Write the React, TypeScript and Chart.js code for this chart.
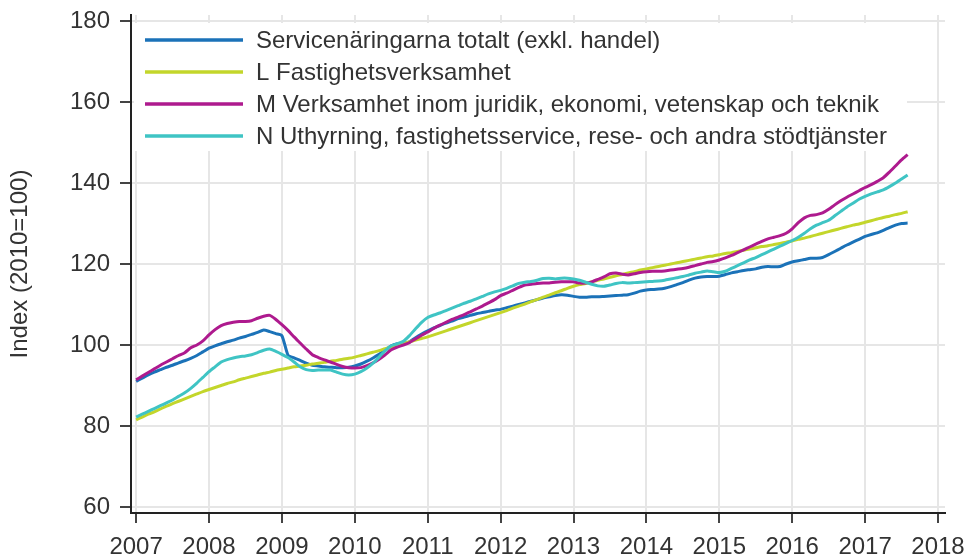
import React, { useEffect, useRef } from "react";
import { Chart, registerables } from "chart.js";

Chart.register(...registerables);

const startYear = 2007;

const seriesLabels = [
  "Servicenäringarna totalt (exkl. handel)",
  "L Fastighetsverksamhet",
  "M Verksamhet inom juridik, ekonomi, vetenskap och teknik",
  "N Uthyrning, fastighetsservice, rese- och andra stödtjänster",
];

const seriesColors = ["#1b72b8", "#c3d62b", "#ae1a8e", "#3fc4c4"];

// Monthly index values, Jan 2007 – Aug 2017
const serviceTotal = [
  91.0, 91.8, 92.6, 93.3, 93.9, 94.5, 95.0, 95.6, 96.1, 96.7, 97.4, 98.3,
  99.2, 99.8, 100.3, 100.8, 101.2, 101.7, 102.1, 102.6, 103.1, 103.7, 103.3, 102.8,
  102.3, 97.5, 96.8, 96.2, 95.5, 95.0, 94.8, 94.6, 94.5, 94.4, 94.4, 94.5,
  94.8, 95.3, 96.0, 96.8, 97.7, 98.7, 99.8, 100.3, 100.4, 100.8, 101.8, 102.7,
  103.5, 104.2, 104.8, 105.4, 105.9, 106.5, 106.9, 107.3, 107.7, 108.0, 108.3, 108.6,
  108.8, 109.2, 109.6, 110.0, 110.4, 110.8, 111.2, 111.6, 111.9, 112.2, 112.4, 112.3,
  112.0, 111.8, 111.8, 111.9, 111.9, 112.0, 112.1, 112.2, 112.3, 112.4, 112.8, 113.3,
  113.6, 113.7, 113.8, 114.0, 114.4, 114.9, 115.4, 116.0, 116.5, 116.8, 116.9, 116.9,
  117.0, 117.4, 117.8, 118.1, 118.4, 118.6, 118.8, 119.2, 119.4, 119.3, 119.4, 120.0,
  120.5, 120.8, 121.1, 121.4, 121.4, 121.6, 122.3, 123.1, 123.9, 124.7, 125.4, 126.1,
  126.8, 127.3, 127.7, 128.3, 129.0, 129.6, 130.0, 130.1,
];

const realEstate = [
  81.5, 82.2, 82.9, 83.5, 84.2, 84.9, 85.5, 86.1, 86.7, 87.3, 87.9, 88.5,
  89.0, 89.5, 90.0, 90.5, 90.9, 91.4, 91.8, 92.2, 92.6, 93.0, 93.3, 93.7,
  94.0, 94.3, 94.6, 94.8, 95.0, 95.3, 95.5, 95.7, 96.0, 96.2, 96.5, 96.7,
  97.0, 97.4, 97.8, 98.2, 98.6, 99.1, 99.5, 99.9, 100.4, 100.8, 101.2, 101.6,
  102.0, 102.5, 103.0, 103.5, 104.0, 104.5, 105.0, 105.5, 106.0, 106.5, 107.0, 107.5,
  108.0, 108.5, 109.1, 109.6, 110.1, 110.7, 111.2, 111.8, 112.3, 112.9, 113.4, 114.0,
  114.5, 114.9, 115.2, 115.6, 116.0, 116.3, 116.7, 117.1, 117.4, 117.8, 118.1, 118.5,
  118.8, 119.1, 119.4, 119.7, 120.0, 120.3, 120.6, 120.9, 121.2, 121.5, 121.8, 122.0,
  122.3, 122.6, 122.8, 123.1, 123.4, 123.7, 124.0, 124.3, 124.5, 124.8, 125.1, 125.4,
  125.7, 126.1, 126.4, 126.8, 127.2, 127.6, 128.0, 128.4, 128.8, 129.2, 129.6, 129.9,
  130.3, 130.7, 131.1, 131.5, 131.8, 132.2, 132.5, 132.9,
];

const professional = [
  91.4, 92.3, 93.2, 94.1, 95.0, 95.8, 96.6, 97.4, 98.1, 99.3, 100.0, 101.0,
  102.5, 103.8, 104.8, 105.3, 105.6, 105.8, 105.8, 106.0, 106.6, 107.1, 107.3, 106.3,
  105.0, 103.6, 102.0, 100.5, 99.0, 97.6, 96.9, 96.3, 95.8, 95.2, 94.7, 94.4,
  94.3, 94.4, 94.9, 95.6, 96.5, 97.6, 98.8, 99.5, 100.0, 100.6, 101.5, 102.4,
  103.2, 104.1, 104.9, 105.6, 106.3, 106.9, 107.5, 108.2, 108.9, 109.6, 110.4, 111.2,
  112.2, 112.8, 113.5, 114.2, 114.8, 115.0, 115.2, 115.3, 115.3, 115.5, 115.6, 115.6,
  115.6, 115.3, 115.3, 115.6, 116.2, 116.8, 117.6, 117.8, 117.5, 117.3, 117.6, 117.9,
  118.1, 118.2, 118.2, 118.3, 118.5, 118.7, 118.9, 119.2, 119.6, 120.0, 120.4, 120.6,
  121.0, 121.5, 122.1, 122.8, 123.5, 124.2, 124.9, 125.6, 126.2, 126.6, 127.0, 127.6,
  128.7, 130.2, 131.4, 132.0, 132.2, 132.6, 133.5, 134.6, 135.6, 136.5, 137.3, 138.1,
  138.9, 139.6, 140.4, 141.3, 142.7, 144.2, 145.7, 147.0,
];

const support = [
  82.2, 82.9, 83.6, 84.3, 85.0, 85.7, 86.4, 87.3, 88.2, 89.3, 90.6, 92.0,
  93.4, 94.6, 95.8, 96.4, 96.8, 97.1, 97.3, 97.6, 98.1, 98.7, 99.0, 98.4,
  97.7, 96.9, 95.8, 94.6, 93.9, 93.7, 93.8, 93.8, 93.8, 93.3, 92.8, 92.6,
  92.8, 93.4, 94.3, 95.5, 97.0, 98.6, 99.8, 100.3, 100.9, 102.3, 104.0, 105.6,
  106.8, 107.4, 107.9, 108.5, 109.1, 109.7, 110.3, 110.8, 111.4, 112.0, 112.6, 113.1,
  113.5, 114.0, 114.6, 115.2, 115.5, 115.7, 116.0, 116.4, 116.5, 116.3, 116.5, 116.5,
  116.3, 116.0, 115.5, 115.0, 114.6, 114.5, 114.8, 115.2, 115.4, 115.3, 115.4, 115.5,
  115.6, 115.7, 115.8, 116.0, 116.3, 116.6, 116.9, 117.3, 117.7, 118.0, 118.3, 118.1,
  117.9, 118.2, 118.9, 119.6, 120.3, 121.0, 121.6, 122.3, 123.0, 123.7, 124.4, 125.1,
  125.8, 126.6, 127.6, 128.7, 129.6, 130.2, 130.8, 131.9, 133.0, 134.1, 135.0, 136.0,
  136.7, 137.3, 137.8, 138.3, 139.1, 140.0, 141.0, 142.0,
];

const seriesValues = [serviceTotal, realEstate, professional, support];

const yAxisTitle = "Index (2010=100)";
const FONT = "'Liberation Sans', Arial, sans-serif";
const TEXT_COLOR = "#333333";

const legendPlugin = {
  id: "insideLegend",
  beforeDatasetsDraw(chart: any) {
    const ctx = chart.ctx;
    const area = chart.chartArea;
    ctx.save();
    ctx.fillStyle = "#ffffff";
    ctx.fillRect(area.left + 3, 23, 907 - area.left - 3, 128);
    const rowY = [40, 72, 104, 136];
    ctx.font = `24px ${FONT}`;
    ctx.textBaseline = "middle";
    ctx.textAlign = "left";
    seriesLabels.forEach((label, i) => {
      ctx.strokeStyle = seriesColors[i];
      ctx.lineWidth = 3.5;
      ctx.beginPath();
      ctx.moveTo(145, rowY[i]);
      ctx.lineTo(243, rowY[i]);
      ctx.stroke();
      ctx.fillStyle = TEXT_COLOR;
      ctx.fillText(label, 256, rowY[i] + 1);
    });
    ctx.restore();
  },
};

export default function App() {
  const canvasRef = useRef<HTMLCanvasElement>(null);

  useEffect(() => {
    if (!canvasRef.current) return;
    const datasets = seriesValues.map((vals, i) => ({
      label: seriesLabels[i],
      data: vals.map((v, m) => ({ x: startYear + m / 12, y: v })),
      borderColor: seriesColors[i],
      backgroundColor: seriesColors[i],
      borderWidth: 3,
      pointRadius: 0,
      tension: 0.2,
      order: 3 - i,
    }));
    const chart = new Chart(canvasRef.current, {
      type: "line",
      data: { datasets },
      options: {
        animation: false,
        responsive: false,
        events: [],
        layout: { padding: { left: 0, right: 23, top: 15, bottom: 0 } },
        plugins: {
          legend: { display: false },
          tooltip: { enabled: false },
        },
        scales: {
          x: {
            type: "linear",
            min: 2006.93,
            max: 2018.096,
            afterFit: (s: any) => {
              s.height = 47;
              s.paddingLeft = 0;
              s.paddingRight = 0;
            },
            ticks: {
              stepSize: 1,
              includeBounds: false,
              autoSkip: false,
              maxRotation: 0,
              padding: 10,
              color: TEXT_COLOR,
              font: { family: FONT, size: 24 },
              callback: (v: any) => String(v),
            },
            grid: {
              color: "#e6e6e6",
              lineWidth: 2,
              tickColor: "#444444",
              tickLength: 10,
            },
            border: { color: "#222222", width: 2 },
          },
          y: {
            type: "linear",
            min: 58.5,
            max: 181.5,
            afterFit: (s: any) => {
              s.width = 131;
              s.paddingTop = 0;
              s.paddingBottom = 0;
            },
            ticks: {
              stepSize: 20,
              includeBounds: false,
              padding: 10,
              color: TEXT_COLOR,
              font: { family: FONT, size: 24 },
              callback: (v: any) => String(v),
            },
            grid: {
              color: "#e6e6e6",
              lineWidth: 2,
              tickColor: "#444444",
              tickLength: 11,
            },
            border: { color: "#222222", width: 2 },
            title: {
              display: true,
              text: yAxisTitle,
              color: TEXT_COLOR,
              font: { family: FONT, size: 24 },
              padding: { top: 6, bottom: 0 },
            },
          },
        },
      },
      plugins: [legendPlugin],
    });
    return () => chart.destroy();
  }, []);

  return (
    <div style={{ position: "absolute", left: 0, top: 0, width: 968, height: 560, background: "#fff" }}>
      <canvas ref={canvasRef} width={968} height={560} />
    </div>
  );
}
